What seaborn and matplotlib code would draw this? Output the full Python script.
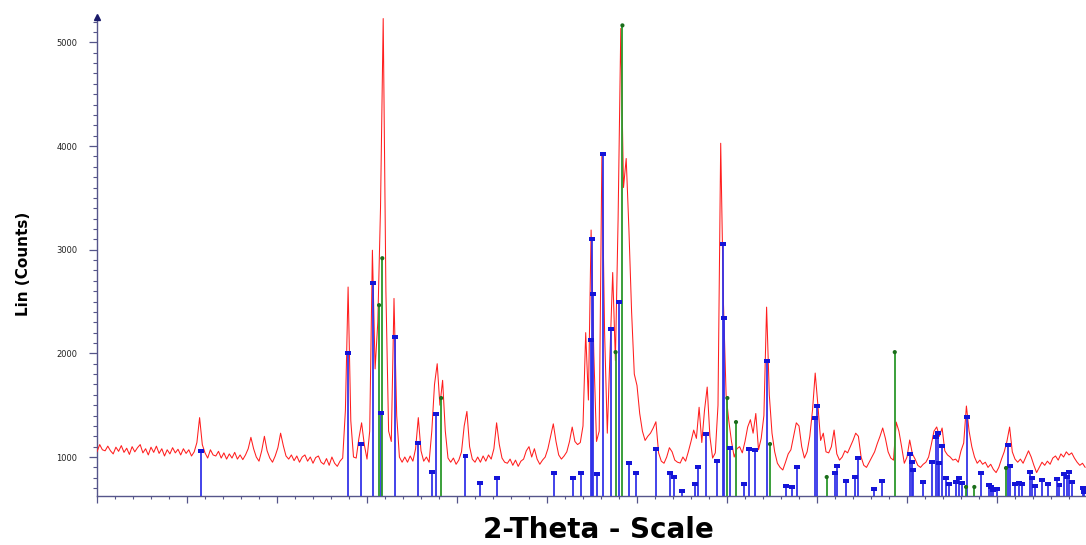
import numpy as np
import pandas as pd
import matplotlib
matplotlib.use("Agg")
import matplotlib.pyplot as plt
from matplotlib.path import Path
from matplotlib.ticker import MultipleLocator, FixedLocator
import seaborn as sns

# ---- measured pattern: start angle, step (deg 2-theta) and counts ----
scan_start = 5.0
scan_step = 0.15
scan_counts = [
    1050, 1120, 1070, 1060, 1105, 1060, 1030, 1095, 1055, 1110,
    1045, 1085, 1025, 1100, 1050, 1090, 1120, 1040, 1080, 1020,
    1095, 1045, 1105, 1035, 1080, 1010, 1070, 1030, 1090, 1040,
    1075, 1020, 1080, 1035, 1070, 1010, 1050, 1140, 1380, 1120,
    1040, 990, 1070, 1020, 1010, 1055, 990, 1040, 980, 1030,
    990, 1045, 980, 1020, 975, 1020, 1080, 1190, 1080, 1000,
    960, 1060, 1200, 1060, 990, 950, 1010, 1090, 1230, 1110,
    1010, 980, 1020, 965, 1010, 950, 1000, 1020, 960, 1000,
    940, 995, 1010, 950, 930, 985, 920, 1000, 940, 910,
    960, 990, 1450, 2640, 1350, 1000, 990, 1180, 1330, 1120,
    980, 1250, 2995, 1850, 2300, 3400, 5230, 2600, 1250, 1150,
    2530, 1400, 1000, 950, 1000, 950, 1010, 960, 1080, 1380,
    1060, 960, 1000, 950, 1250, 1700, 1900, 1500, 1740, 1250,
    990, 950, 990, 930, 970, 1050, 1300, 1440, 1100, 980,
    950, 1000, 950, 1010, 960, 1020, 980, 1080, 1330, 1120,
    990, 950, 940, 980, 920, 970, 910, 960, 980, 1060,
    1100, 1000, 1080, 980, 930, 970, 1000, 1080, 1200, 1320,
    1150, 1020, 980, 1010, 1050, 1150, 1289, 1150, 1120, 1140,
    1300, 2200, 1550, 3190, 2000, 1150, 1250, 3930, 2200, 1230,
    2000, 2780, 1930, 3300, 5135, 3600, 3880, 3200, 2400, 1800,
    1690, 1420, 1250, 1160, 1200, 1230, 1280, 1340, 1040, 960,
    940, 1000, 1090, 1050, 970, 950, 942, 1000, 960, 1050,
    1150, 1260, 1180, 1480, 1140, 1450, 1675, 1200, 990, 1040,
    1500, 4027, 2500, 1600, 1350, 1150, 1000, 1080, 1100, 1040,
    1150, 1290, 1360, 1230, 1420, 1070, 1180, 1400, 2446, 1600,
    1230, 1050, 940, 900, 875, 950, 1030, 1070, 1200, 1330,
    1300, 1100, 990, 1050, 1200, 1450, 1810, 1500, 1160, 1230,
    1050, 1040, 1100, 1260, 1030, 970, 1000, 1060, 1040, 1100,
    1160, 1230, 1200, 1000, 920, 900, 950, 1000, 1050, 1130,
    1200, 1280, 1180, 1050, 990, 970, 1337, 1250, 1100, 940,
    1000, 1164, 1030, 980, 920, 900, 930, 950, 1000, 1120,
    1250, 1290, 1200, 1280, 1060, 1020, 1000, 970, 980, 950,
    1060, 1135, 1492, 1250, 1100, 1000, 940, 970, 930, 950,
    900, 930, 880, 850, 900, 980, 1050, 1150, 1289, 1050,
    980, 950, 980, 940, 1000, 1060, 1000, 920, 850, 900,
    950, 920, 960, 930, 990, 1010, 970, 1030, 1000, 1050,
    1020, 1040, 990, 950, 920, 940, 900,
]

# ---- reference pattern lines (phase 1, blue) ----
blue_pos = [
    10.76, 18.94, 19.65, 20.31, 20.78, 21.56, 22.83, 23.59, 23.82, 25.47,
    26.28, 27.22, 30.39, 31.42, 31.89, 32.44, 32.50, 32.57, 32.78, 33.09,
    33.56, 34.00, 34.57, 34.94, 36.06, 36.83, 37.07, 37.48, 38.22, 38.41,
    38.83, 39.46, 39.76, 39.85, 40.17, 40.94, 41.22, 41.54, 42.24, 43.28,
    43.61, 43.91, 44.89, 44.98, 46.02, 46.09, 46.61, 47.13, 47.26, 48.18,
    48.63, 50.17, 50.26, 50.35, 50.87, 51.39, 51.61, 51.71, 51.78, 51.93,
    52.17, 52.35, 52.74, 52.89, 53.06, 53.35, 54.11, 54.54, 54.65, 54.76,
    54.98, 55.59, 55.72, 56.02, 56.24, 56.37, 56.83, 56.96, 57.11, 57.48,
    57.82, 58.32, 58.47, 58.74, 58.91, 59.02, 59.15, 59.76, 59.83,
]
blue_counts = [
    1058, 2002, 1125, 2677, 1424, 2157, 1135, 855, 1414, 1010,
    749, 798, 846, 798, 846, 2128, 3101, 2571, 836, 3920,
    2234, 2494, 942, 846, 1077, 846, 807, 672, 740, 904,
    1222, 961, 3053, 2340, 1087, 740, 1077, 1067, 1925, 720,
    711, 904, 1376, 1491, 846, 913, 769, 807, 990, 692,
    769, 1029, 952, 875, 759, 952, 1193, 1231, 942, 1106,
    798, 740, 759, 798, 749, 1386, 846, 730, 711, 682,
    692, 1116, 913, 740, 749, 740, 855, 798, 720, 778,
    740, 788, 730, 836, 807, 855, 759, 701, 663,
]

# ---- reference pattern lines (phase 2, green) ----
green_pos = [20.67, 20.85, 24.12, 33.81, 34.19, 40.02, 40.50, 42.39,
             45.54, 49.32, 53.28, 53.74, 55.50]
green_counts = [2465, 2918, 1569, 2012, 5164, 1569, 1337, 1125,
                807, 2012, 711, 711, 894]

count_ticks = [1000, 2000, 3000, 4000, 5000]

# ---- figure ----
sns.set_theme(style="white")
plt.rcParams["font.family"] = ["DejaVu Sans"]

W, H = 1086, 545
fig = plt.figure(figsize=(W / 100, H / 100), dpi=100)
fig.patch.set_facecolor("white")
ax = fig.add_axes([97 / W, 49 / H, 989 / W, 479 / H])
ax.set_facecolor("white")

two_theta = scan_start + scan_step * np.arange(len(scan_counts))
scan = pd.DataFrame({"two_theta": two_theta, "counts": scan_counts})

y_floor = 624
ax.set_xlim(5.0, 5.0 + 989 / 18)
ax.set_ylim(y_floor, 5245)

# measured intensity
sns.lineplot(data=scan, x="two_theta", y="counts", color="#ff1e1e",
             linewidth=0.75, ax=ax, zorder=3, estimator=None, sort=False)

# stick patterns
ax.vlines(blue_pos, y_floor, blue_counts, colors="#2e2ee8", linewidth=1.4,
          alpha=0.9, zorder=4)
ax.vlines(green_pos, y_floor, green_counts, colors="#2f9a2f", linewidth=1.4,
          alpha=0.95, zorder=4)

rect = Path([(-1.5, -1.0), (1.5, -1.0), (1.5, 1.0), (-1.5, 1.0), (-1.5, -1.0)],
            [Path.MOVETO, Path.LINETO, Path.LINETO, Path.LINETO, Path.CLOSEPOLY])
sns.scatterplot(x=blue_pos, y=blue_counts, marker=rect, s=18, color="#1414d8",
                edgecolor="none", linewidth=0, ax=ax, zorder=5)
sns.scatterplot(x=green_pos, y=green_counts, marker="o", s=9, color="#1b6e1b",
                edgecolor="none", linewidth=0, ax=ax, zorder=5)

# axes styling
for side in ("top", "right"):
    ax.spines[side].set_visible(False)
for side in ("left", "bottom"):
    ax.spines[side].set_color("#55558a")
    ax.spines[side].set_linewidth(1.0)

ax.yaxis.set_major_locator(FixedLocator(count_ticks))
ax.yaxis.set_minor_locator(MultipleLocator(100))
ax.xaxis.set_major_locator(MultipleLocator(5))
ax.xaxis.set_minor_locator(MultipleLocator(1))
ax.set_xticklabels([])
ax.tick_params(axis="y", which="major", direction="out", length=6, width=0.9,
               color="#55558a", labelsize=6, labelcolor="#222222", pad=8, left=True)
ax.tick_params(axis="y", which="minor", direction="out", length=3, width=0.8,
               color="#55558a", left=True)
ax.tick_params(axis="x", which="major", direction="out", length=5, width=0.9,
               color="#55558a", bottom=True)
ax.tick_params(axis="x", which="minor", direction="out", length=2.5, width=0.8,
               color="#55558a", bottom=True)
ax.set_xlabel("")
ax.set_ylabel("")

# arrow head on the intensity axis
ax.plot([0], [1], marker="^", markersize=4, color="#1a1a6a",
        transform=ax.transAxes, clip_on=False, zorder=6)

fig.text(24 / W, 1 - 264 / H, "Lin (Counts)", rotation=90, ha="center",
         va="center", fontsize=11, fontweight="bold", color="black")
fig.text(598 / W, 1 - 538 / H, "2-Theta - Scale", ha="center",
         va="baseline", fontsize=20, fontweight="bold", color="black")

fig.savefig("out.png", dpi=100)
